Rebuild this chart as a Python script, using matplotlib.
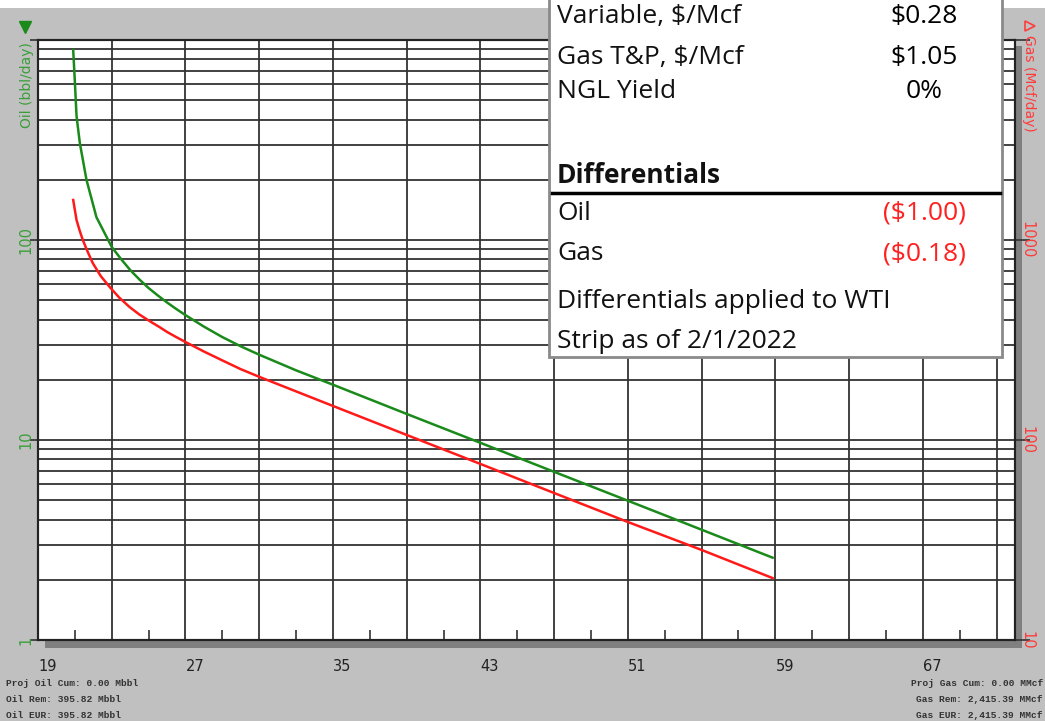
import matplotlib
matplotlib.use("Agg")
import matplotlib.pyplot as plt
import numpy as np
from matplotlib.patches import Rectangle
from matplotlib.lines import Line2D

W, H = 1045, 721

# data
oil_x = [20.91, 21.0, 21.09, 21.27, 21.63, 22.17, 22.89, 23.0, 23.5, 24.0, 24.5, 25.0,
         25.5, 26.0, 26.5, 27, 28, 29, 30, 31, 33, 35, 39, 43, 47, 51, 55, 58.85]
oil_q = [891, 617, 417, 305, 200, 130, 96.6, 92.3, 80.4, 70.8, 63.5, 57.5,
         52.8, 48.7, 45.2, 42.1, 36.9, 32.7, 29.4, 26.7, 22.3, 18.9, 13.5, 9.68, 6.93,
         4.97, 3.56, 2.58]
gas_x = [20.91, 21.0, 21.09, 21.25, 21.43, 21.7, 21.97, 22.4, 22.89, 23.4, 23.97, 24.5,
         25.0, 25.59, 26.0, 26.5, 27, 28, 29, 30, 31, 33, 35, 39, 43, 47, 51, 55, 58.85]
gas_q = [1585, 1413, 1259, 1122, 1000, 871, 767, 661, 582, 516, 462, 424,
         396, 367, 347, 327, 309, 277, 250, 226, 207, 175, 148, 106, 75.9, 54.3, 38.9,
         28.2, 20.4]

x_labels = ["19", "", "27", "", "35", "", "43", "", "51", "", "59", "", "67", ""]
oil_ticks = [1, 10, 100, 1000]
oil_tick_labels = ["1", "10", "100", ""]
gas_ticks = [10, 100, 1000, 10000]
gas_tick_labels = ["10", "100", "1000", ""]

table_rows = [
    ("Variable, $/Mcf", "$0.28", "black", 23, False),
    ("Gas T&P, $/Mcf", "$1.05", "black", 64, False),
    ("NGL Yield", "0%", "black", 98, False),
    ("Differentials", "", "black", 183, True),
    ("Oil", "($1.00)", "#ff2020", 220, False),
    ("Gas", "($0.18)", "#ff2020", 260, False),
    ("Differentials applied to WTI", "", "black", 308, False),
    ("Strip as of 2/1/2022", "", "black", 348, False),
]
left_notes = ["Proj Oil Cum: 0.00 Mbbl", "Oil Rem: 395.82 Mbbl", "Oil EUR: 395.82 Mbbl"]
right_notes = ["Proj Gas Cum: 0.00 MMcf", "Gas Rem: 2,415.39 MMcf", "Gas EUR: 2,415.39 MMcf"]

GREEN = "#1a8a1a"
GREEN_T = "#3a9e3a"
RED = "#ff1a1a"
RED_T = "#ff3b3b"
GRID = "#333333"


def fx(x):
    return x / W


def fy(y):
    return 1 - y / H


fig = plt.figure(figsize=(W / 100, H / 100), dpi=100)
fig.patch.set_facecolor("#c0c0c0")

L, R, T, B = 38, 1015, 40, 640
ax = fig.add_axes([fx(L), fy(B), (R - L) / W, (B - T) / H])
ax.set_facecolor("white")

# drop shadow and white strip on top
fig.add_artist(Rectangle((fx(45), fy(648)), (1022 - 45) / W, (648 - 46) / H,
                         transform=fig.transFigure, fc="#808080", ec="none", zorder=-1))
fig.add_artist(Rectangle((0, fy(8)), 1, 8 / H, transform=fig.transFigure,
                         fc="white", ec="none", zorder=-1))

ax.plot(oil_x, oil_q, color=GREEN, lw=1.8, zorder=3)
ax.set_yscale("log")
ax.set_ylim(1, 1000)
ax.set_xlim(19, 72)

ax.set_xticks(np.arange(19, 72, 4))
ax.set_xticklabels(x_labels)
ax.set_xticks(np.arange(21, 72, 4), minor=True)
for lab in ax.get_xticklabels():
    lab.set_ha("left")
ax.tick_params(axis="x", which="major", length=0, pad=14, labelsize=10.5,
               labelcolor="#222222")
ax.tick_params(axis="x", which="minor", direction="in", length=7, width=1.2, color=GRID)

ax.set_yticks(oil_ticks)
ax.set_yticklabels(oil_tick_labels, rotation=90, va="center")
ax.yaxis.set_minor_formatter(plt.NullFormatter())
ax.tick_params(axis="y", which="major", length=6, width=1.2, color=GRID, pad=-3,
               labelsize=10.5, labelcolor=GREEN_T)
ax.tick_params(axis="y", which="minor", length=0)

ax.grid(True, which="major", axis="x", color=GRID, lw=1.3)
ax.grid(True, which="both", axis="y", color=GRID, lw=1.3)
ax.set_axisbelow(True)

ax2 = ax.twinx()
ax2.plot(gas_x, gas_q, color=RED, lw=1.8, zorder=3)
ax2.set_yscale("log")
ax2.set_ylim(10, 10000)
ax2.set_yticks(gas_ticks)
ax2.set_yticklabels(gas_tick_labels, rotation=270, va="center")
ax2.yaxis.set_minor_formatter(plt.NullFormatter())
ax2.tick_params(axis="y", which="major", length=11, width=1.2, color=GRID, pad=-8,
                labelsize=10.5, labelcolor=RED_T)
ax2.tick_params(axis="y", which="minor", length=0)

for a in (ax, ax2):
    for s in a.spines.values():
        s.set_color("#222222")
        s.set_linewidth(1.5)

# axis titles and markers
fig.text(fx(27), fy(85), "Oil (bbl/day)", rotation=90, ha="center", va="center",
         color=GREEN_T, fontsize=10)
fig.text(fx(1029), fy(83), "Gas (Mcf/day)", rotation=270, ha="center", va="center",
         color=RED_T, fontsize=10)
fig.add_artist(Line2D([fx(25)], [fy(27)], marker="v", ms=8, color=GREEN,
                      transform=fig.transFigure))
fig.add_artist(Line2D([fx(1030)], [fy(26)], marker=">", ms=7, mfc="none", mec=RED_T,
                      mew=1.2, transform=fig.transFigure))

# info table overlay
fig.add_artist(Rectangle((fx(549), fy(357)), (1002 - 549) / W, (357 + 20) / H,
                         transform=fig.transFigure, fc="white", ec="#8a8a8a", lw=2, zorder=5))
fig.add_artist(Line2D([fx(552), fx(1000)], [fy(193), fy(193)], color="black", lw=2.5,
                      transform=fig.transFigure, zorder=6))
for label, value, vcol, base, bold in table_rows:
    fig.text(fx(557), fy(base), label, ha="left", va="baseline", fontsize=19,
             family="Open Sans", weight="bold" if bold else "normal", color="#111111",
             zorder=7)
    if value:
        fig.text(fx(924), fy(base), value, ha="center", va="baseline", fontsize=19,
                 family="Open Sans", color=vcol, zorder=7)

# footer notes
for i, (ln, rn) in enumerate(zip(left_notes, right_notes)):
    yy = fy(683 + i * 16)
    fig.text(fx(6), yy, ln, ha="left", va="center", family="Liberation Mono",
             fontsize=6.8, weight="bold", color="#333333")
    fig.text(fx(1043), yy, rn, ha="right", va="center", family="Liberation Mono",
             fontsize=6.8, weight="bold", color="#333333")

fig.savefig("out.png", dpi=100, facecolor=fig.get_facecolor())
